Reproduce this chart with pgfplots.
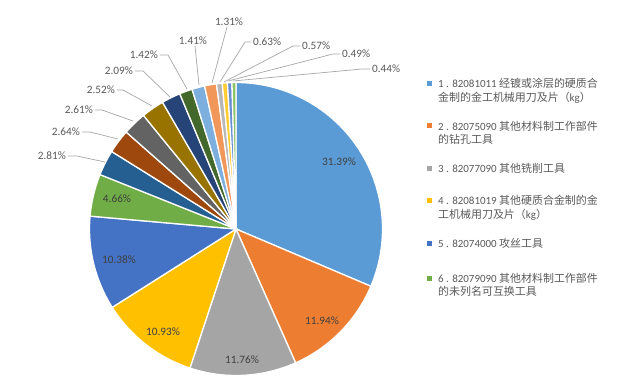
\documentclass[border=0pt]{standalone}
\usepackage{pgfplots}
\pgfplotsset{compat=1.18}
\usepackage{pgfplotstable}
\usepackage{fontspec}
\setmainfont{Carlito}
\newfontfamily\cjk{Noto Sans CJK SC}
\definecolor{c0}{HTML}{5B9BD5}
\definecolor{c1}{HTML}{ED7D31}
\definecolor{c2}{HTML}{A5A5A5}
\definecolor{c3}{HTML}{FFC000}
\definecolor{c4}{HTML}{4472C4}
\definecolor{c5}{HTML}{70AD47}
\definecolor{c6}{HTML}{255E91}
\definecolor{c7}{HTML}{9E480E}
\definecolor{c8}{HTML}{636363}
\definecolor{c9}{HTML}{997300}
\definecolor{c10}{HTML}{264478}
\definecolor{c11}{HTML}{43682B}
\definecolor{c12}{HTML}{7CAFDD}
\definecolor{c13}{HTML}{F1975A}
\definecolor{c14}{HTML}{B7B7B7}
\definecolor{c15}{HTML}{FFCD33}
\definecolor{c16}{HTML}{698ED0}
\definecolor{c17}{HTML}{8CC168}
\definecolor{txt}{HTML}{595959}
\definecolor{intxt}{HTML}{404040}
\definecolor{ldr}{HTML}{A6A6A6}

\pgfplotstableread{
v
31.39
11.94
11.76
10.93
10.38
4.66
2.81
2.64
2.61
2.52
2.09
1.42
1.41
1.31
0.63
0.57
0.49
0.44
}\piedata

\begin{document}
\begin{tikzpicture}
\begin{axis}[scale only axis, width=634bp, height=391bp,
  xmin=0, xmax=634, ymin=0, ymax=391, y dir=reverse, hide axis, clip=false]
\path (axis cs:0,0) rectangle (axis cs:634,391);
\pgfplotstablegetrowsof{\piedata}
\pgfmathtruncatemacro\N{\pgfplotsretval-1}
\def\cum{0}
\pgfplotsforeachungrouped \i in {0,...,\N}{%
  \pgfplotstablegetelem{\i}{v}\of\piedata
  \pgfmathsetmacro\va{90-\cum*3.6}%
  \pgfmathsetmacro\vb{90-(\cum+\pgfplotsretval)*3.6}%
  \pgfmathsetmacro\cum{\cum+\pgfplotsretval}%
  \edef\temp{\noexpand\fill[c\i,draw=white,line width=1.3bp] (axis cs:236,229) -- ++(\va:146.5bp) arc[start angle=\va,end angle=\vb,radius=146.5bp] -- cycle;}%
  \temp
}
% inside labels
\tikzset{pl/.style={font=\fontsize{11.3}{13}\selectfont, text=intxt, inner sep=0pt}}
\node[pl] at (axis cs:339,162) {31.39\%};
\node[pl] at (axis cs:322,321) {11.94\%};
\node[pl] at (axis cs:242,360) {11.76\%};
\node[pl] at (axis cs:163,332) {10.93\%};
\node[pl] at (axis cs:119,260) {10.38\%};
\node[pl] at (axis cs:117,199) {4.66\%};
% outside labels
\tikzset{ol/.style={font=\fontsize{11.3}{13}\selectfont, text=txt, inner sep=0pt}}
\tikzset{ll/.style={draw=ldr, line width=0.7bp}}
\node[ol,anchor=east] at (axis cs:66,156) {2.81\%};
\draw[ll] (axis cs:68,156) -- (axis cs:77,156) -- (axis cs:105,162);
\node[ol,anchor=east] at (axis cs:80,132) {2.64\%};
\draw[ll] (axis cs:82,132) -- (axis cs:90,132) -- (axis cs:118,139);
\node[ol,anchor=east] at (axis cs:93,110) {2.61\%};
\draw[ll] (axis cs:95,110) -- (axis cs:102,110) -- (axis cs:133,121);
\node[ol,anchor=east] at (axis cs:115,90) {2.52\%};
\draw[ll] (axis cs:117,90) -- (axis cs:123,90) -- (axis cs:152,106);
\node[ol,anchor=east] at (axis cs:133,71) {2.09\%};
\draw[ll] (axis cs:135,71) -- (axis cs:143,71) -- (axis cs:170,97);
\node[ol,anchor=east] at (axis cs:158,55) {1.42\%};
\draw[ll] (axis cs:160,55) -- (axis cs:168,55) -- (axis cs:187,89);
\node[ol] at (axis cs:193,41) {1.41\%};
\draw[ll] (axis cs:195,46) -- (axis cs:199,85);
\node[ol] at (axis cs:229,22) {1.31\%};
\draw[ll] (axis cs:227,27) -- (axis cs:212,83);
\node[ol,anchor=west] at (axis cs:253,42) {0.63\%};
\draw[ll] (axis cs:251,42) -- (axis cs:245,42) -- (axis cs:220,82);
\node[ol,anchor=west] at (axis cs:302,46) {0.57\%};
\draw[ll] (axis cs:300,46) -- (axis cs:293,46) -- (axis cs:224,82);
\node[ol,anchor=west] at (axis cs:342,54) {0.49\%};
\draw[ll] (axis cs:340,54) -- (axis cs:333,54) -- (axis cs:228,81);
\node[ol,anchor=west] at (axis cs:372,69) {0.44\%};
\draw[ll] (axis cs:370,69) -- (axis cs:362,69) -- (axis cs:233,81);
% legend
\tikzset{lg/.style={font=\fontsize{11}{13}\selectfont, text=txt, inner sep=0pt, anchor=base west}}
\fill[c0] (axis cs:427,81) rectangle (axis cs:432,86);
\node[lg] at (axis cs:438,87) {1 . 82081011 {\cjk 经镀或涂层的硬质合}};
\node[lg] at (axis cs:438,101) {{\cjk 金制的金工机械用刀及片（}kg{\cjk ）}};
\fill[c1] (axis cs:427,123) rectangle (axis cs:432,128);
\node[lg] at (axis cs:438,130) {2 . 82075090 {\cjk 其他材料制工作部件}};
\node[lg] at (axis cs:438,143) {{\cjk 的钻孔工具}};
\fill[c2] (axis cs:427,166) rectangle (axis cs:432,171);
\node[lg] at (axis cs:438,172) {3 . 82077090 {\cjk 其他铣削工具}};
\fill[c3] (axis cs:427,198) rectangle (axis cs:432,203);
\node[lg] at (axis cs:438,204) {4 . 82081019 {\cjk 其他硬质合金制的金}};
\node[lg] at (axis cs:438,218) {{\cjk 工机械用刀及片（}kg{\cjk ）}};
\fill[c4] (axis cs:427,241) rectangle (axis cs:432,246);
\node[lg] at (axis cs:438,247) {5 . 82074000 {\cjk 攻丝工具}};
\fill[c5] (axis cs:427,276) rectangle (axis cs:432,281);
\node[lg] at (axis cs:438,282) {6 . 82079090 {\cjk 其他材料制工作部件}};
\node[lg] at (axis cs:438,295) {{\cjk 的未列名可互换工具}};
\end{axis}
\end{tikzpicture}
\end{document}
